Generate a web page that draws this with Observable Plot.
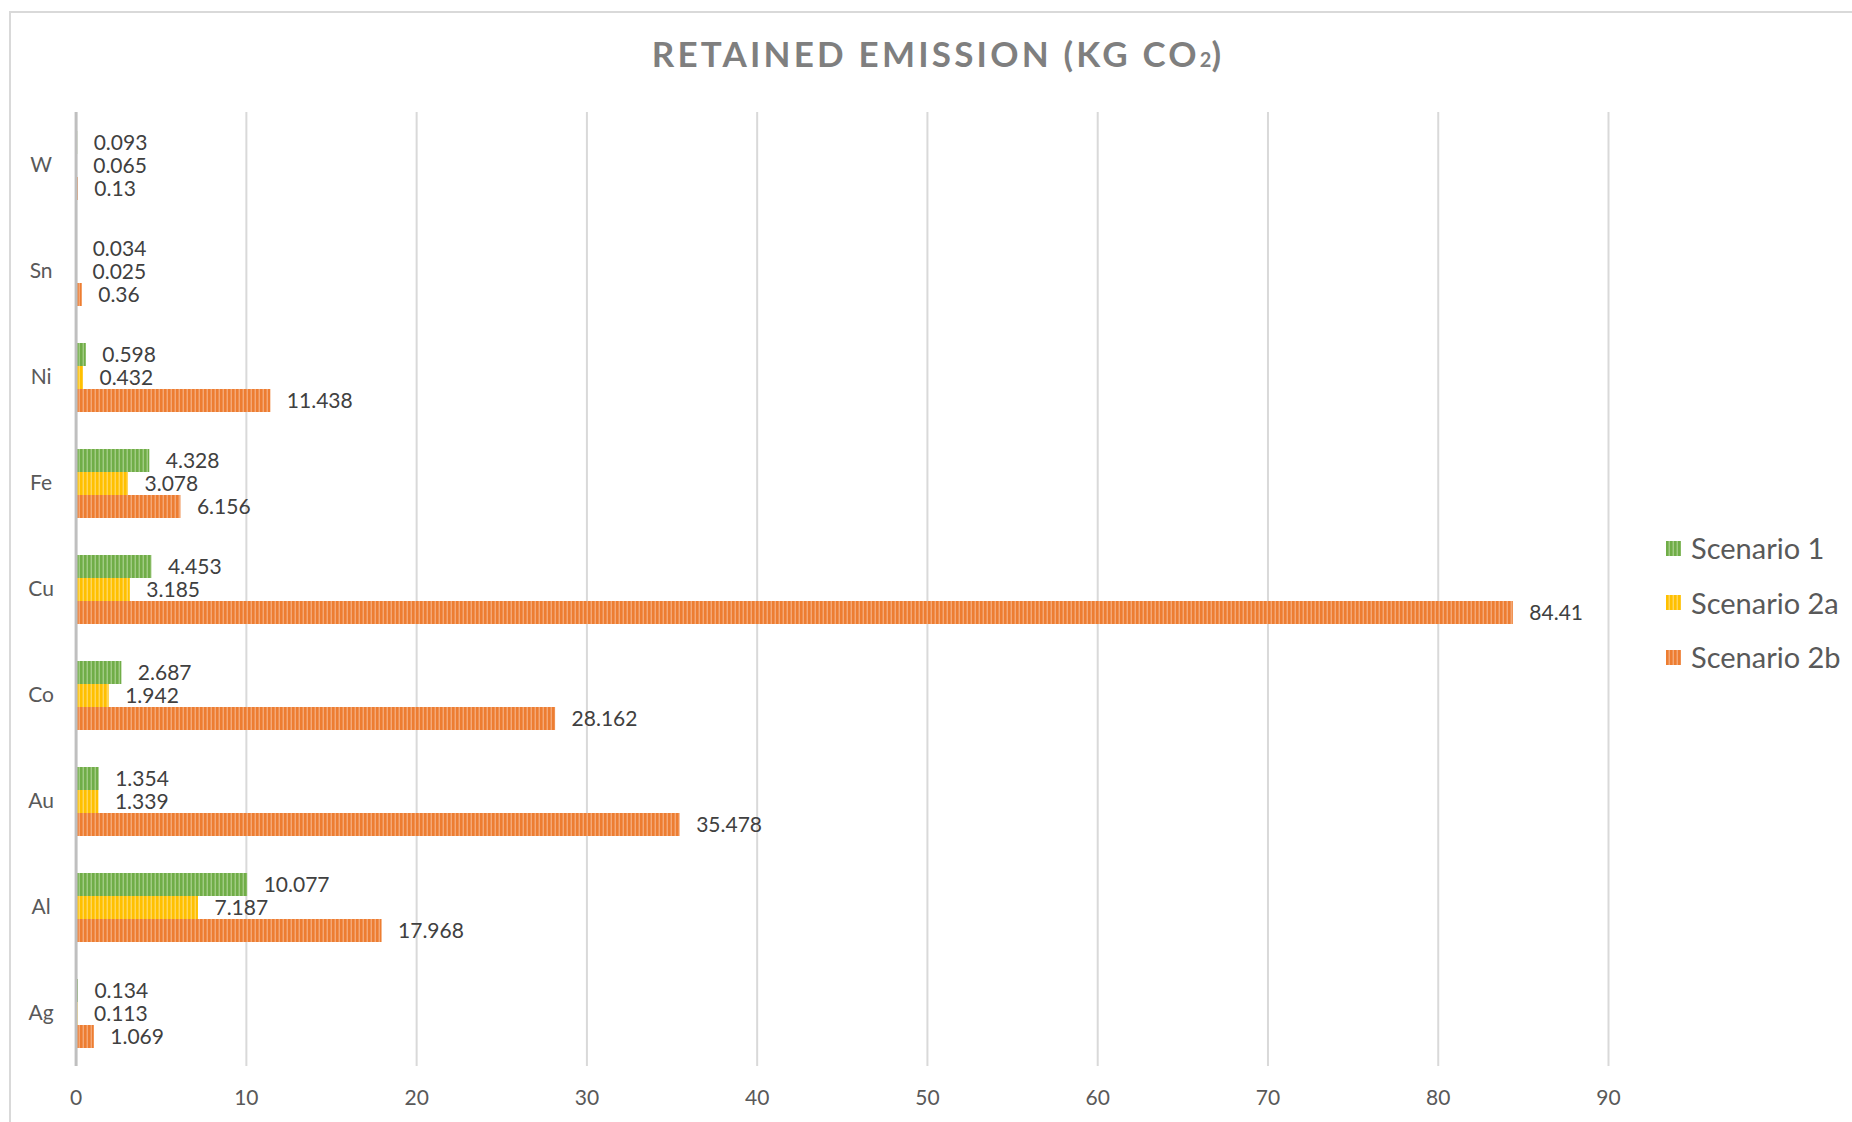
<!DOCTYPE html>
<html>
<head>
<meta charset="utf-8">
<script src="https://cdn.jsdelivr.net/npm/d3@7"></script>
<script src="https://cdn.jsdelivr.net/npm/@observablehq/plot@0.6"></script>
<style>
  html, body { margin: 0; padding: 0; background: #fff; overflow: hidden; }
  #page { position: relative; width: 1852px; height: 1122px; overflow: hidden; font-family: Lato, "Open Sans", sans-serif; }
  #frame { position: absolute; left: 9px; top: 11px; width: 1900px; height: 1200px; border: 2px solid #d9d9d9; box-sizing: border-box; }
  #title { position: absolute; left: 0; top: 35px; width: 1876px; text-align: center; font-size: 35px; line-height: 36px;
           font-weight: 700; letter-spacing: 3.2px; color: #7f7f7f; white-space: nowrap; }
  #title .sub { font-size: 20px; letter-spacing: 0; }
  #chart { position: absolute; left: 0; top: 0; }
  #legend { position: absolute; left: 1666px; top: 521px; }
  .item { display: flex; align-items: center; height: 54.5px; }
  .swatch { width: 15px; height: 15px; margin-right: 10px; }
  .item span { font-size: 29px; color: #595959; line-height: 32px; }
</style>
</head>
<body>
<!-- striped fills for the three scenarios -->
<svg width="0" height="0" style="position:absolute">
  <defs>
    <pattern id="stripe-s1" width="4" height="10" patternUnits="userSpaceOnUse">
      <rect width="4" height="10" fill="#70AD47"/><rect x="2.6" width="1.3" height="10" fill="#a6cf8a"/>
    </pattern>
    <pattern id="stripe-s2a" width="4" height="10" patternUnits="userSpaceOnUse">
      <rect width="4" height="10" fill="#FFC000"/><rect x="2.6" width="1.3" height="10" fill="#ffd966"/>
    </pattern>
    <pattern id="stripe-s2b" width="4" height="10" patternUnits="userSpaceOnUse">
      <rect width="4" height="10" fill="#ED7D31"/><rect x="2.6" width="1.3" height="10" fill="#f5ad7e"/>
    </pattern>
  </defs>
</svg>
<div id="page">
  <div id="frame"></div>
  <div id="title">RETAINED EMISSION (KG CO<span class="sub">2</span>)</div>
  <div id="chart"></div>
  <div id="legend"></div>
</div>
<script>
// Retained emission per metal, kg CO2
const metals = ["Ag", "Al", "Au", "Co", "Cu", "Fe", "Ni", "Sn", "W"];
const scenarios = ["Scenario 1", "Scenario 2a", "Scenario 2b"];
const scenario1  = [0.134, 10.077, 1.354, 2.687, 4.453, 4.328, 0.598, 0.034, 0.093];
const scenario2a = [0.113, 7.187, 1.339, 1.942, 3.185, 3.078, 0.432, 0.025, 0.065];
const scenario2b = [1.069, 17.968, 35.478, 28.162, 84.41, 6.156, 11.438, 0.36, 0.13];
const xTicks = [0, 10, 20, 30, 40, 50, 60, 70, 80, 90];
const fills = ["url(#stripe-s1)", "url(#stripe-s2a)", "url(#stripe-s2b)"];

const series = [scenario1, scenario2a, scenario2b];
const rows = [];
metals.forEach((m, i) => {
  scenarios.forEach((s, j) => rows.push({metal: m, scenario: s, value: series[j][i]}));
});

const chart = Plot.plot({
  width: 1640,
  height: 1122,
  marginLeft: 75.6,
  marginRight: 32,
  marginTop: 108,
  marginBottom: 52,
  style: {fontFamily: "Lato, 'Open Sans', sans-serif", fontSize: "21px", color: "#595959", background: "transparent"},
  x: {domain: [0, 90], axis: null},
  fy: {domain: metals.slice().reverse(), padding: 0, axis: null},
  y: {domain: scenarios, paddingInner: 0, paddingOuter: 0.76, axis: null},
  color: {domain: scenarios, range: fills},
  marks: [
    Plot.gridX(xTicks.slice(1), {stroke: "#d9d9d9", strokeWidth: 2, strokeOpacity: 1}),
    Plot.barX(rows, {x: "value", y: "scenario", fy: "metal", fill: "scenario"}),
    Plot.ruleX([0], {stroke: "#bfbfbf", strokeWidth: 3}),
    Plot.text(rows, {x: "value", y: "scenario", fy: "metal", text: d => String(d.value),
      dx: 16, textAnchor: "start", fill: "#404040", fontSize: 21}),
    Plot.axisX({ticks: xTicks, tickSize: 0, tickPadding: 24, label: null, fontSize: 21, fill: "#595959"}),
    Plot.axisFy({anchor: "left", tickSize: 0, tickPadding: 0, textAnchor: "middle", dx: -35, label: null, fontSize: 21, fill: "#595959"})
  ]
});
document.getElementById("chart").appendChild(chart);

// legend
const legend = document.getElementById("legend");
scenarios.forEach((s, j) => {
  const item = document.createElement("div");
  item.className = "item";
  item.innerHTML = `<svg class="swatch" width="15" height="15"><rect width="15" height="15" fill="${fills[j]}"/></svg><span>${s}</span>`;
  legend.appendChild(item);
});
</script>
</body>
</html>
